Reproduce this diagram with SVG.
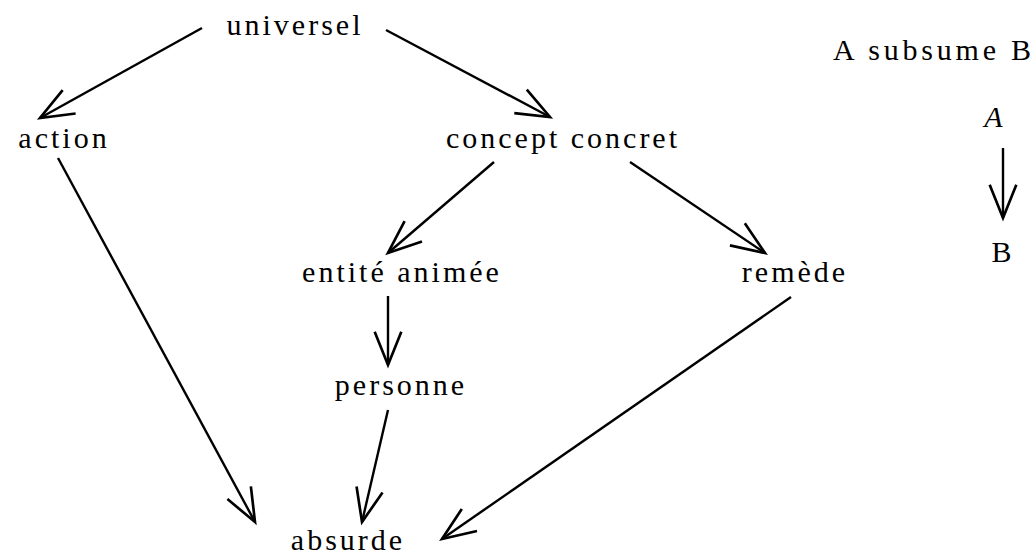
<svg xmlns="http://www.w3.org/2000/svg" width="1033" height="554" viewBox="0 0 1033 554">
  <style>
    .lbl { font-family: "Liberation Serif", "Times New Roman", serif; font-size: 30px; letter-spacing: 3px; fill: #000; text-anchor: middle; }
    .edge { stroke: #000; stroke-width: 2.4; fill: none; marker-end: url(#vee); }
  </style>
  <defs>
    <!-- open V arrowhead -->
    <marker id="vee" markerUnits="userSpaceOnUse" markerWidth="40" markerHeight="40" viewBox="-32 -16 36 32" refX="0" refY="0" orient="auto" overflow="visible">
      <path d="M -30 -12 L 0 0 L -30 12" fill="none" stroke="#000" stroke-width="2.4"/>
    </marker>
  </defs>
  <rect width="1033" height="554" fill="#fff"/>

  <g id="connectors">
    <line class="edge" x1="202" y1="28" x2="40" y2="118"/>
    <line class="edge" x1="386" y1="30" x2="550" y2="117"/>
    <line class="edge" x1="494" y1="162" x2="388" y2="253"/>
    <line class="edge" x1="630" y1="162" x2="765" y2="253"/>
    <line class="edge" x1="388" y1="296" x2="388" y2="365"/>
    <line class="edge" x1="388" y1="410" x2="362" y2="522"/>
    <line class="edge" x1="58" y1="158" x2="255" y2="522"/>
    <line class="edge" x1="791" y1="297" x2="442" y2="539"/>
    <line class="edge" x1="1003" y1="148" x2="1003" y2="218"/>
  </g>

  <g id="universel"><text class="lbl" x="295" y="35">universel</text></g>
  <g id="action"><text class="lbl" x="64" y="148">action</text></g>
  <g id="concept-concret"><text class="lbl" x="563" y="148">concept concret</text></g>
  <g id="entite-animee"><text class="lbl" x="402" y="282">entité animée</text></g>
  <g id="remede"><text class="lbl" x="795" y="282">remède</text></g>
  <g id="personne"><text class="lbl" x="401" y="395">personne</text></g>
  <g id="absurde"><text class="lbl" x="348" y="550">absurde</text></g>

  <g id="legend">
    <text class="lbl" x="934" y="60" style="letter-spacing:3.8px">A subsume B</text>
    <text class="lbl" x="995" y="127" font-style="italic">A</text>
    <text class="lbl" x="1003" y="262">B</text>
  </g>
</svg>
